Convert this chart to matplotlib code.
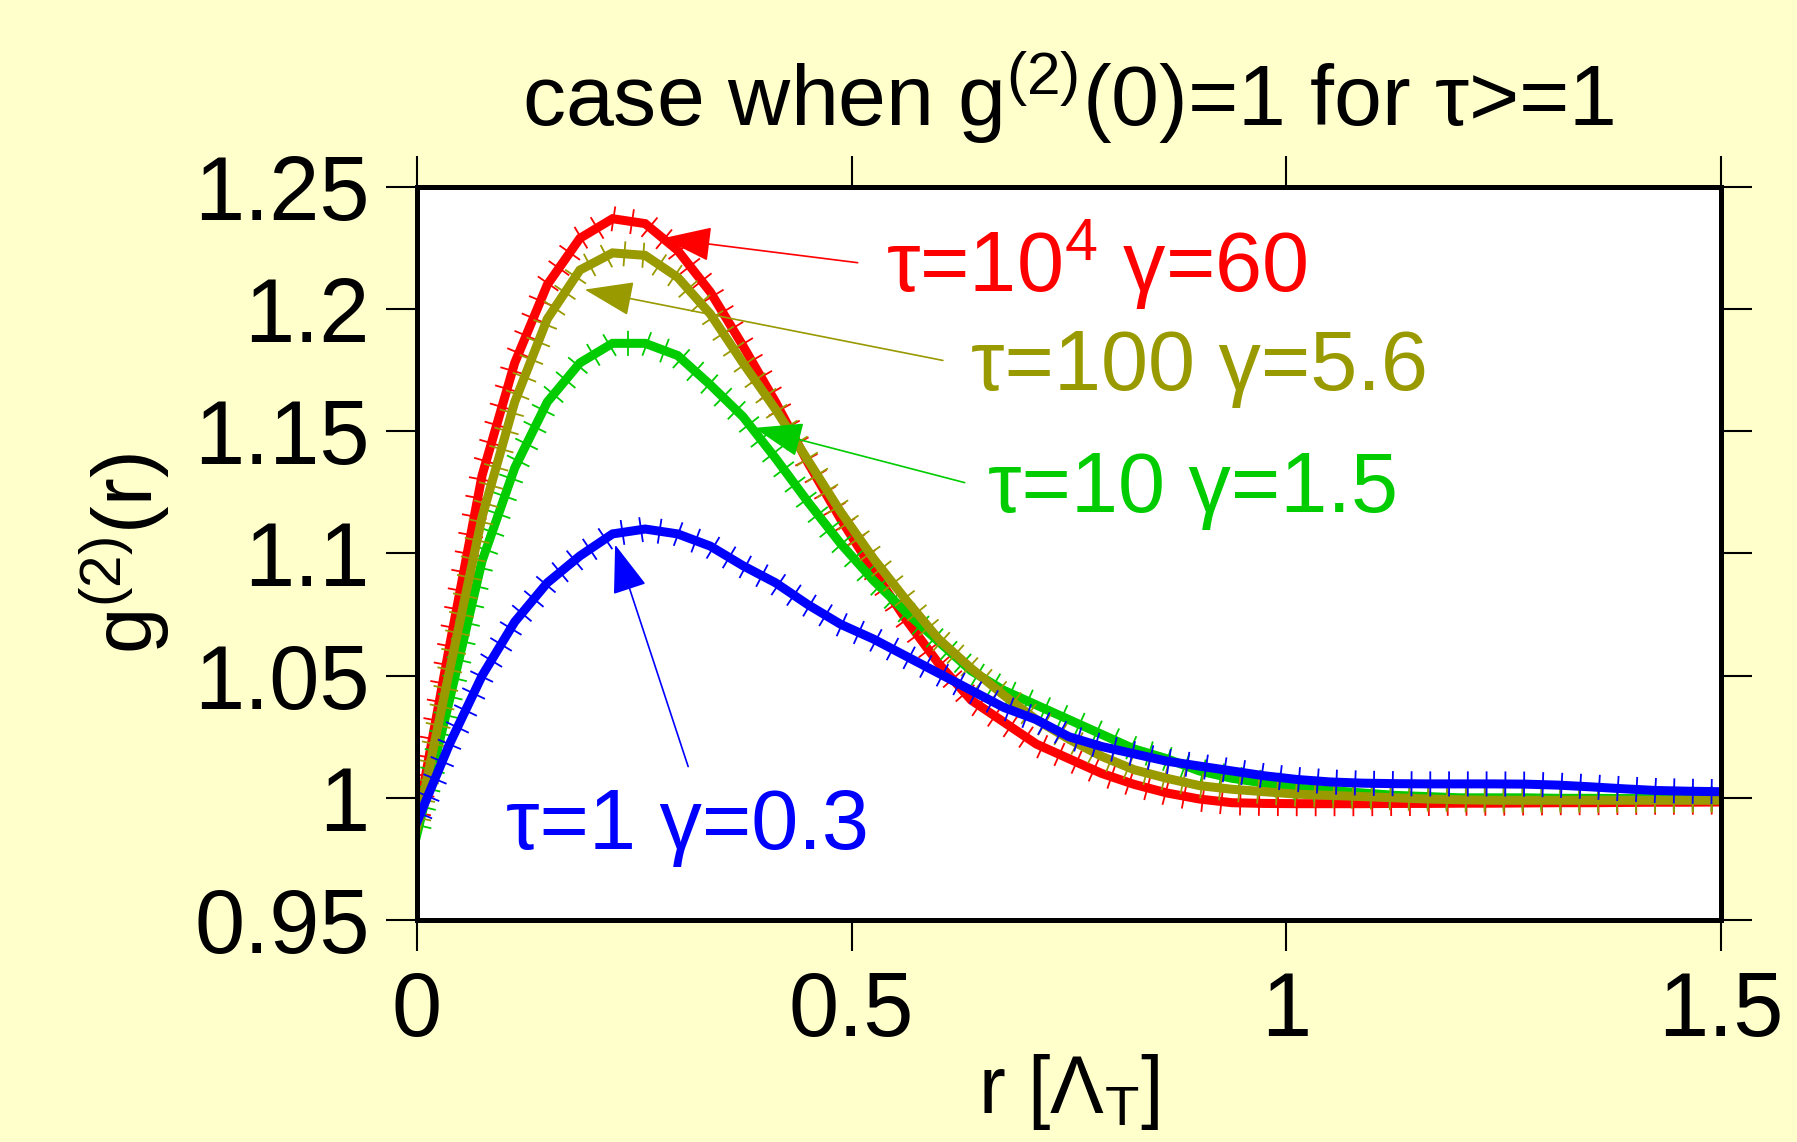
import numpy as np
import matplotlib
matplotlib.use('Agg')
import matplotlib.pyplot as plt
import matplotlib.patheffects as pe

plt.rcParams['font.family'] = ['Liberation Sans', 'DejaVu Sans']
plt.rcParams['mathtext.fontset'] = 'custom'
plt.rcParams['mathtext.rm'] = 'Liberation Sans'
plt.rcParams['mathtext.it'] = 'Liberation Sans'
plt.rcParams['mathtext.default'] = 'regular'

# r grid [Lambda_T]
r = [0.0, 0.0375, 0.075, 0.1125, 0.15, 0.1875, 0.225, 0.2625, 0.3, 0.3375,
     0.375, 0.4125, 0.45, 0.4875, 0.525, 0.5625, 0.6, 0.6375, 0.675, 0.7125,
     0.75, 0.7875, 0.825, 0.8625, 0.9, 0.9375, 0.975, 1.0125, 1.05, 1.0875,
     1.125, 1.1625, 1.2, 1.2375, 1.275, 1.3125, 1.35, 1.3875, 1.425, 1.4625, 1.5]

# g2(r)
g_tau1e4 = [0.990, 1.062, 1.132, 1.178, 1.210, 1.229, 1.237, 1.235, 1.224, 1.207,
            1.185, 1.162, 1.137, 1.114, 1.093, 1.073, 1.055, 1.040, 1.031, 1.022,
            1.016, 1.010, 1.0055, 1.002, 0.9995, 0.998, 0.9977, 0.9976, 0.9976, 0.9976,
            0.9977, 0.9977, 0.9978, 0.9978, 0.9979, 0.998, 0.998, 0.9981, 0.9982, 0.9982, 0.9983]
g_tau100 = [0.988, 1.052, 1.115, 1.162, 1.196, 1.216, 1.223, 1.222, 1.213, 1.198,
            1.178, 1.159, 1.138, 1.117, 1.098, 1.081, 1.065, 1.053, 1.042, 1.032,
            1.024, 1.017, 1.0115, 1.008, 1.005, 1.0035, 1.0025, 1.0015, 1.001, 1.0005,
            1.0, 0.9995, 0.9992, 0.999, 0.999, 0.999, 0.999, 0.999, 0.999, 0.999, 0.999]
g_tau10 = [0.985, 1.040, 1.097, 1.135, 1.162, 1.178, 1.186, 1.186, 1.181, 1.169,
           1.156, 1.139, 1.121, 1.104, 1.089, 1.076, 1.064, 1.052, 1.044, 1.038,
           1.032, 1.026, 1.020, 1.016, 1.011, 1.008, 1.006, 1.004, 1.003, 1.002,
           1.001, 1.0005, 1.0, 1.0, 1.0, 0.9998, 0.9998, 0.9997, 0.9997, 0.9997, 0.9997]
g_tau1 = [0.990, 1.022, 1.050, 1.072, 1.088, 1.099, 1.108, 1.110, 1.108, 1.103,
          1.095, 1.088, 1.079, 1.071, 1.065, 1.058, 1.051, 1.044, 1.037, 1.032,
          1.025, 1.021, 1.018, 1.015, 1.013, 1.011, 1.009, 1.0075, 1.0065, 1.006,
          1.0058, 1.0057, 1.0057, 1.0057, 1.0056, 1.0052, 1.0045, 1.0037, 1.003, 1.0027, 1.0025]

curves = [
    (g_tau1e4, '#FF0000', r'τ=10$^{4}$ γ=60', (0.283, 1.229), (0.507, 1.219), (0.539, 1.207)),
    (g_tau10, '#00CC00', 'τ=10 γ=1.5', (0.388, 1.1514), (0.630, 1.129), (0.657, 1.117)),
    (g_tau100, '#999900', 'τ=100 γ=5.6', (0.193, 1.208), (0.605, 1.179), (0.637, 1.167)),
    (g_tau1, '#0000FF', 'τ=1 γ=0.3', (0.228, 1.1036), (0.312, 1.0128), (0.102, 0.979)),
]

xticks = [0, 0.5, 1, 1.5]
xticklabels = ['0', '0.5', '1', '1.5']
yticks = [0.95, 1.0, 1.05, 1.1, 1.15, 1.2, 1.25]
yticklabels = ['0.95', '1', '1.05', '1.1', '1.15', '1.2', '1.25']

fig = plt.figure(figsize=(17.97, 11.42), dpi=100, facecolor='#FFFFCC')
ax = fig.add_axes([0.232, 0.1944, 0.7257, 0.6419])
ax.set_facecolor('white')

for g, c, lab, tip, tail, txt in curves:
    ticks = [pe.TickedStroke(angle=90, spacing=13.5, length=0.62, linewidth=1.3),
             pe.TickedStroke(angle=-90, spacing=13.5, length=0.62, linewidth=1.3),
             pe.Normal()]
    ax.plot(r, g, color=c, lw=6.5, solid_joinstyle='miter', path_effects=ticks)

for g, c, lab, tip, tail, txt in curves:
    ax.annotate('', xy=tip, xytext=tail,
                arrowprops=dict(arrowstyle='-|>,head_length=3.1,head_width=1.1',
                                mutation_scale=10, color=c, lw=1.2, shrinkA=0, shrinkB=0))
    ax.text(txt[0], txt[1], lab, color=c, fontsize=61, va='baseline', ha='left')

ax.set_xlim(0, 1.5)
ax.set_ylim(0.95, 1.25)
ax.set_xticks(xticks)
ax.set_xticklabels(xticklabels)
ax.set_yticks(yticks)
ax.set_yticklabels(yticklabels)
ax.tick_params(direction='out', length=22, width=1.5, labelsize=65,
               top=True, right=True)
ax.tick_params(axis='x', pad=14)
ax.tick_params(axis='y', pad=12)
for s in ax.spines.values():
    s.set_linewidth(3.6)

ax.set_xlabel(r'r [$Λ_T$]', fontsize=58)
ax.xaxis.set_label_coords(0.5, -0.263)
ax.xaxis.label.set_va('baseline')
ax.set_ylabel(r'g$^{(2)}$(r)', fontsize=60)
ax.yaxis.set_label_coords(-0.188, 0.5)

fig.text(0.5943, 1 - 126 / 1142, r'case when g$^{(2)}$(0)=1 for τ>=1',
         fontsize=62, ha='center', va='baseline')

fig.savefig('out.png', dpi=100, facecolor=fig.get_facecolor())
